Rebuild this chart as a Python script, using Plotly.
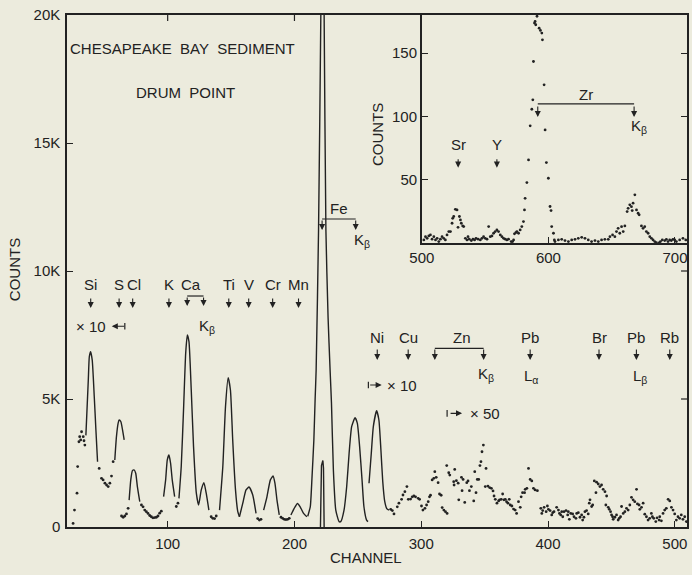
import plotly.graph_objects as go

# ---------------- data (channel, counts) ----------------
# main spectrum, solid line segments
si_ch = [35.5, 37.4, 38.2, 39.2, 40.5, 42.1, 43.4, 44.7]
si_ct = [3580, 5740, 6650, 6850, 6520, 5090, 3790, 2550]
s_ch = [58.3, 59.6, 60.9, 61.7, 63.1, 64.4, 65.7]
s_ct = [2620, 3530, 4050, 4180, 4110, 3790, 3400]
cl_ch = [69.6, 70.9, 72.2, 73.5, 74.8, 76.1, 78.0]
cl_ct = [1050, 1840, 2200, 2230, 2100, 1580, 990]
k_ch = [96.8, 98.4, 99.7, 101.0, 102.3, 103.6, 105.5]
k_ct = [1190, 1840, 2620, 2810, 2490, 1840, 1190]
ca_ch = [108.9, 110.7, 112.6, 114.2, 115.5, 116.8, 118.6, 120.4, 122.6, 124.4, 126.5, 128.6, 130.4, 132.5]
ca_ct = [1120, 2360, 4700, 6780, 7500, 7240, 5350, 3140, 1320, 860, 1450, 1730, 1320, 660]
ti_ch = [140.9, 143.5, 145.6, 147.7, 149.5, 151.3, 153.5, 155.3, 156.6]
ti_ct = [660, 2360, 4700, 5830, 5350, 3400, 1450, 600, 400]
v_ch = [156.6, 159.2, 161.8, 164.2, 167.1, 169.7]
v_ct = [400, 920, 1450, 1560, 1250, 530]
cr_ch = [175.7, 178.3, 181.0, 183.1, 184.6, 186.2, 188.0]
cr_ct = [660, 1180, 1840, 1990, 1710, 1060, 470]
mn_ch = [197.2, 199.8, 202.4, 204.5, 207.2, 209.8]
mn_ct = [470, 730, 920, 790, 530, 400]
fe_ch = [210.5, 212.5, 213.8, 215.3, 216.3, 217.1, 219.0, 220.8, 222.1, 223.4, 224.8, 226.5,
         228.1, 229.2, 230.7, 232.6, 235.2, 236.5, 239.1, 241.2, 243.1, 245.1, 247.8, 249.6,
         251.4, 253.3, 254.8, 256.9, 258.0]
fe_ct = [420, 800, 1900, 3400, 5000, 6130, 11600, 20000, 28000, 20000, 11600, 8200,
         6130, 4830, 2230, 660, 210, 210, 660, 1580, 2880, 3920, 4270, 4050,
         3140, 1840, 790, 270, 210]
fe_small_ch = [220.5, 221.3, 222.4, 222.9, 223.4]
fe_small_ct = [0, 2400, 2600, 2300, 0]
ni_ch = [258.8, 260.6, 262.2, 264.8, 266.6, 268.2, 269.6, 271.2, 272.8, 274.5]
ni_ct = [1710, 2880, 3920, 4540, 4180, 3000, 1800, 1000, 720, 660]

# main spectrum, dotted segments
dots_a_ch = [25.4, 26.5, 28.5, 29.0, 30.0, 30.6, 31.4, 32.1, 33.4, 34.0, 34.7]
dots_a_ct = [140, 660, 1320, 2360, 3330, 3530, 3400, 3720, 3530, 3370, 3200]
dots_b_ch = [46.0, 47.8, 49.1, 50.5, 51.8, 53.1, 54.4, 55.7, 57.0]
dots_b_ct = [2290, 1900, 1840, 1710, 1640, 1580, 1710, 1990, 2550]
dots_c_ch = [63.6, 64.9, 66.2, 67.5, 68.8]
dots_c_ct = [430, 380, 430, 510, 730]
dots_d_ch = [79.3, 80.6, 81.9, 83.2, 84.5, 85.8, 87.1, 88.4, 89.8, 91.1, 92.4, 93.7, 95.0]
dots_d_ct = [860, 790, 660, 600, 530, 450, 400, 360, 370, 380, 430, 540, 620]
dots_e_ch = [106.8, 108.1, 134.3, 135.6, 137.0, 138.3, 171.0, 172.3, 173.6,
             189.4, 190.7, 192.0, 193.3, 194.6, 195.9]
dots_e_ct = [800, 930, 400, 340, 330, 430, 330, 270, 300,
             380, 340, 300, 290, 300, 340]
dots_f_ch = [275.9, 277.2, 278.5, 281.1, 282.4, 284.5, 285.6, 287.1, 288.7, 289.8, 291.6, 292.9,
             294.2, 295.5, 297.6, 298.7, 300.2, 301.3, 302.9, 304.2, 305.5, 306.5, 307.3, 308.6,
             309.9, 310.7, 311.8, 313.3, 314.4, 315.7, 316.5, 317.8, 319.1, 320.4]
dots_f_ct = [690, 640, 510, 790, 930, 1080, 1250, 1380, 1580, 1080, 1090, 1180,
             1210, 1180, 1120, 1080, 820, 660, 730, 860, 990, 1180, 1240, 1840,
             1900, 2160, 1940, 1730, 1290, 1240, 760, 660, 600, 530]
dots_g_ch = [320.1, 321.7, 322.5, 325.6, 326.4, 325.9, 327.7, 329.1, 329.6, 331.7, 333.0, 332.2,
             334.3, 335.9, 336.9, 338.0, 339.5, 341.4, 342.2, 343.2, 344.2, 345.3, 346.3, 347.1,
             347.9, 349.0, 351.1, 350.5, 352.6, 353.9, 355.3, 356.6, 357.4, 358.4, 359.7, 361.0,
             361.8, 363.1, 364.2, 365.2, 366.3, 367.3, 368.4, 369.4, 370.2, 371.5, 372.8, 374.1,
             375.2, 376.7, 378.1, 378.8, 379.9, 381.5, 382.0, 383.3, 384.6, 385.9, 387.2, 388.5,
             389.8, 391.6]
dots_g_ct = [2400, 2120, 2030, 1770, 2250, 1640, 1810, 1710, 1060, 1940, 1860, 1420,
             960, 1730, 1800, 1420, 1580, 1020, 2160, 1340, 1860, 1860, 2400, 2550,
             2940, 3200, 2290, 1580, 1600, 1540, 1510, 1410, 1210, 1080, 930, 1020,
             1060, 1080, 1290, 1060, 1080, 990, 930, 1080, 860, 820, 700, 660,
             530, 990, 770, 1180, 1340, 1340, 1470, 1510, 2290, 1860, 1800, 1510,
             1450, 1420]
dots_h_ch = [394.3, 395.1, 395.8, 396.9, 398.5, 399.5, 400.3, 401.6, 402.9, 403.7, 404.7, 406.8,
             408.2, 409.0, 410.0, 410.8, 411.6, 412.6, 414.2, 415.5, 416.0, 416.8, 417.9, 419.4,
             420.5, 422.0, 422.6, 423.9, 425.2, 426.5, 427.3, 428.3, 429.1, 430.4, 431.7, 432.5,
             433.1, 434.4, 435.2, 436.5, 437.8, 438.3, 439.6, 440.9, 442.2, 443.5, 444.9, 446.2,
             445.6, 447.5, 448.3, 449.3, 450.1, 450.9, 451.4, 452.7, 454.0, 455.3, 456.1, 457.2,
             458.0, 459.3, 460.6, 461.9, 463.2, 464.5, 465.8, 467.1, 468.4, 469.8, 470.5, 471.8,
             472.4, 473.7, 475.0, 476.3, 477.6, 478.9, 480.2, 481.5, 482.3, 483.4, 485.0, 486.0,
             487.6, 488.1, 489.4, 490.7, 492.0, 493.3, 494.7, 496.0, 497.3, 498.6, 499.9, 501.2,
             502.5, 503.8, 505.1, 506.4, 507.8, 509.1]
dots_h_ct = [730, 530, 640, 770, 600, 820, 690, 640, 470, 560, 600, 770,
             660, 530, 470, 600, 400, 600, 640, 470, 600, 300, 530, 510,
             400, 340, 530, 560, 380, 470, 270, 380, 600, 640, 510, 930,
             1060, 800, 860, 1800, 1340, 1750, 1680, 1580, 1640, 1470, 1380, 1210,
             860, 770, 690, 600, 470, 400, 300, 380, 470, 270, 340, 400,
             800, 530, 600, 730, 660, 860, 1160, 1060, 990, 1470, 900, 860,
             690, 770, 930, 500, 400, 270, 340, 530, 400, 340, 210, 360,
             270, 400, 240, 530, 660, 730, 1080, 1020, 770, 660, 510, 270,
             400, 340, 470, 300, 400, 210]

# inset spectrum (Sr, Y, Zr region)
inset_ch = [501.6, 502.9, 504.2, 505.5, 506.8, 508.1, 509.5, 510.8, 512.1, 513.4, 514.7, 516.0,
            517.3, 518.6, 519.9, 521.3, 522.6, 523.9, 524.4, 525.2, 526.5, 527.8, 528.6, 529.7,
            530.5, 531.2, 532.3, 533.1, 534.4, 535.7, 536.5, 537.5, 539.1, 540.4, 541.7, 542.8,
            544.4, 546.2, 547.5, 548.8, 550.1, 551.5, 552.8, 554.1, 555.4, 556.7, 558.0, 559.3,
            560.6, 562.0, 563.3, 564.6, 565.9, 567.2, 568.5, 570.6, 571.7, 572.5, 573.2, 574.3,
            575.1, 576.4, 577.7, 579.0, 580.3, 581.1, 581.6, 583.0, 584.3, 585.6, 586.9, 587.7,
            588.2, 589.0, 589.5, 590.0, 591.0, 592.7, 593.7, 594.8, 595.3, 596.6, 597.4, 598.4,
            600.0, 601.3, 602.1, 602.6, 604.0, 604.7, 605.2, 607.9, 610.5, 613.1, 615.8, 618.4,
            621.0, 623.6, 626.3, 628.9, 631.5, 634.1, 636.8, 639.4, 642.0, 644.6, 647.3, 648.6,
            650.7, 652.5, 653.8, 655.1, 656.4, 657.8, 659.1, 660.4, 662.2, 663.0, 664.3, 665.6,
            666.2, 666.9, 668.3, 669.6, 670.9, 671.7, 673.5, 674.8, 676.1, 677.4, 678.8, 680.1,
            681.4, 682.7, 684.0, 685.3, 687.4, 688.5, 690.0, 691.9, 693.2, 694.5, 695.8, 697.1,
            698.4, 699.8, 701.1, 703.7, 706.3, 708.5]
inset_ct = [2.4, 5.0, 3.7, 5.6, 6.4, 3.0, 5.0, 2.4, 3.7, 1.1, 3.0, 5.0,
            3.7, 2.4, 6.4, 9.0, 9.0, 15.6, 19.5, 20.9, 26.6, 26.1, 12.4, 20.9,
            18.2, 15.6, 13.5, 13.0, 3.7, 2.4, 5.0, 3.0, 1.9, 3.0, 2.4, 3.7,
            3.0, 2.4, 3.7, 5.0, 3.7, 3.0, 13.0, 5.0, 5.6, 7.7, 9.0, 10.3,
            9.0, 6.4, 5.0, 3.7, 3.0, 2.4, 3.0, 1.1, 1.1, 2.4, 7.2, 8.2,
            9.0, 7.7, 10.3, 13.0, 16.9, 26.1, 35.3, 47.7, 65.6, 92.5, 105.6, 113.0,
            143.3, 173.6, 174.9, 172.3, 179.0, 169.6, 167.8, 165.7, 160.4, 124.9, 89.3, 63.5,
            51.1, 28.8, 25.6, 13.0, 7.7, 2.4, 1.1, 2.4, 2.9, 1.9, 1.1, 2.4,
            2.9, 3.7, 4.5, 3.7, 2.4, 1.1, 1.9, 1.1, 2.4, 2.9, 2.9, 5.0,
            6.4, 5.0, 9.0, 11.6, 7.7, 12.9, 9.0, 13.5, 24.8, 27.4, 30.1, 28.7,
            25.6, 31.4, 38.0, 26.1, 23.5, 22.2, 13.5, 11.6, 12.9, 9.0, 7.7, 5.0,
            3.7, 2.4, 1.1, 0.3, 0.0, 1.1, 2.4, 1.9, 2.9, 1.1, 2.4, 1.9,
            2.9, 2.4, 1.1, 2.4, 3.7, 2.4]

# tick labels
main_x_ticks = [100, 200, 300, 400, 500]
main_y_ticks = [0, 5000, 10000, 15000, 20000]
main_y_text = ["0", "5K", "10K", "15K", "20K"]
inset_x_ticks = [500, 600, 700]
inset_y_ticks = [50, 100, 150]

# ---------------- styling ----------------
INK = "#222222"
BG = "#ECEBDD"
FONT = "Liberation Sans, Arial, sans-serif"
FS = 15

fig = go.Figure()

line_segments = [(si_ch, si_ct), (s_ch, s_ct), (cl_ch, cl_ct), (k_ch, k_ct), (ca_ch, ca_ct),
                 (ti_ch, ti_ct), (v_ch, v_ct), (cr_ch, cr_ct), (mn_ch, mn_ct), (fe_ch, fe_ct),
                 (ni_ch, ni_ct)]
for xs, ys in line_segments:
    fig.add_trace(go.Scatter(x=xs, y=ys, mode="lines", line=dict(color=INK, width=1.4, shape="spline", smoothing=0.5),
                             showlegend=False, hoverinfo="skip"))
fig.add_trace(go.Scatter(x=fe_small_ch, y=fe_small_ct, mode="lines", line=dict(color=INK, width=1.4),
                         showlegend=False, hoverinfo="skip"))

dot_segments = [(dots_a_ch, dots_a_ct), (dots_b_ch, dots_b_ct), (dots_c_ch, dots_c_ct),
                (dots_d_ch, dots_d_ct), (dots_e_ch, dots_e_ct), (dots_f_ch, dots_f_ct),
                (dots_g_ch, dots_g_ct), (dots_h_ch, dots_h_ct)]
for xs, ys in dot_segments:
    fig.add_trace(go.Scatter(x=xs, y=ys, mode="markers", marker=dict(color=INK, size=2.8),
                             showlegend=False, hoverinfo="skip"))

fig.add_trace(go.Scatter(x=inset_ch, y=inset_ct, mode="markers", marker=dict(color=INK, size=2.8),
                         xaxis="x2", yaxis="y2", showlegend=False, hoverinfo="skip"))

ann = []
shapes = []


def text(x, y, s, xref="x", yref="y", size=FS, angle=0):
    ann.append(dict(x=x, y=y, xref=xref, yref=yref, text=s, showarrow=False,
                    font=dict(family=FONT, size=size, color=INK), textangle=angle,
                    xanchor="center", yanchor="middle"))


def arrow(x, y, ax, ay, xref="x", yref="y"):
    ann.append(dict(x=x, y=y, xref=xref, yref=yref, text="", showarrow=True,
                    ax=ax, ay=ay, arrowhead=2, arrowsize=1.1, arrowwidth=1.1, arrowcolor=INK,
                    standoff=0, startstandoff=0))


def hline(x0, x1, y, xref="x", yref="y"):
    shapes.append(dict(type="line", xref=xref, yref=yref, x0=x0, x1=x1, y0=y, y1=y,
                       line=dict(color=INK, width=1.2)))


# titles
text(111.8, 18711, "CHESAPEAKE\u00a0\u00a0BAY\u00a0\u00a0SEDIMENT")
text(114.2, 16992, "DRUM\u00a0\u00a0POINT")

# element labels, left group
row1 = 9492
for lab, cx in [("Si", 39.3), ("S", 61.7), ("Cl", 73.3), ("K", 101.0), ("Ti", 148.2),
                ("V", 163.9), ("Cr", 182.8), ("Mn", 203.2)]:
    text(cx, row1, lab)
for cx in [39.3, 61.7, 72.4, 101.0, 148.2, 163.9, 182.8, 203.2]:
    arrow(cx, 8555, 0, -11)
text(118.6, row1, "Ca")
hline(115.4, 128.3, 9023)
arrow(115.4, 8633, 0, -10)
arrow(128.3, 8633, 0, -10)
text(130.8, 7824, "K<sub>β</sub>")

# x10 marker (left)
text(39.3, 7840, "× 10")
arrow(55.9, 7840, 14, 0)
shapes.append(dict(type="line", xref="x", yref="y", x0=66.2, x1=66.2, y0=7840 - 130, y1=7840 + 130,
                   line=dict(color=INK, width=1.2)))

# Fe bracket
text(235.2, 12460, "Fe")
hline(221.8, 248.3, 12031)
arrow(221.8, 11600, 0, -11)
arrow(248.3, 11600, 0, -11)
text(253.0, 11211, "K<sub>β</sub>")

# right group
row2 = 7410
for lab, cx in [("Ni", 265.3), ("Cu", 289.7), ("Pb", 385.9), ("Br", 440.2), ("Pb", 469.7), ("Rb", 496.0)]:
    text(cx, row2, lab)
    arrow(cx, 6523, 0, -12)
text(332.1, row2, "Zn")
hline(310.7, 349.2, 6980)
arrow(310.7, 6523, 0, -12)
arrow(349.2, 6523, 0, -12)
text(350.8, 5938, "K<sub>β</sub>")
text(386.7, 5871, "L<sub>α</sub>")
text(472.4, 5871, "L<sub>β</sub>")

# x10 / x50 markers (right)
for bar, tip, yv, lab, lx in [(258.3, 268.8, 5547, "× 10", 284.6), (320.4, 332.2, 4440, "× 50", 350.0)]:
    arrow(tip, yv, -13, 0)
    shapes.append(dict(type="line", xref="x", yref="y", x0=bar, x1=bar, y0=yv - 130, y1=yv + 130,
                       line=dict(color=INK, width=1.2)))
    text(lx, yv, lab)

# inset labels
text(528.7, 77.5, "Sr", "x2", "y2")
arrow(528.7, 59.5, 0, -10, "x2", "y2")
text(559.3, 77.5, "Y", "x2", "y2")
arrow(559.3, 59.5, 0, -10, "x2", "y2")
text(629.4, 117.5, "Zr", "x2", "y2")
hline(591.6, 667.7, 109.9, "x2", "y2")
arrow(591.6, 99.5, 0, -12, "x2", "y2")
arrow(667.7, 99.5, 0, -12, "x2", "y2")
text(671.5, 92.0, "K<sub>β</sub>", "x2", "y2")

# axis titles
text(0.482, -0.0586, "CHANNEL", "paper", "paper")
text(-0.0836, 0.502, "COUNTS", "paper", "paper", angle=-90)
text(0.5, 0.7656, "COUNTS", "paper", "paper", angle=-90)

# mirrored ticks on main frame (top & right), drawn as short marks
for tv in [100, 200]:
    shapes.append(dict(type="line", xref="x", yref="paper", x0=tv, x1=tv, y0=1, y1=1 - 6 / 512,
                       line=dict(color=INK, width=1.2)))
for tv in [5000, 10000]:
    shapes.append(dict(type="line", xref="paper", yref="y", x0=1, x1=1 - 6 / 622, y0=tv, y1=tv,
                       line=dict(color=INK, width=1.2)))

axis_font = dict(family=FONT, size=FS, color=INK)
fig.update_layout(
    width=692, height=575,
    margin=dict(l=67, r=3, t=15, b=48),
    paper_bgcolor=BG, plot_bgcolor=BG,
    showlegend=False,
    annotations=ann, shapes=shapes,
    xaxis=dict(range=[20.6, 509.6], tickvals=main_x_ticks, ticks="inside", ticklen=6, tickcolor=INK,
               showline=True, linecolor=INK, linewidth=1.5, mirror=True, showgrid=False, zeroline=False,
               tickfont=axis_font, ticklabelstandoff=2, ticklabeloverflow="allow"),
    yaxis=dict(range=[0, 20000], tickvals=main_y_ticks, ticktext=main_y_text, ticks="inside", ticklen=6,
               tickcolor=INK, showline=True, linecolor=INK, linewidth=1.5, mirror=True, showgrid=False,
               zeroline=False, tickfont=axis_font, ticklabelstandoff=2, ticklabeloverflow="allow"),
    xaxis2=dict(domain=[0.5723, 1.0], anchor="y2", range=[500, 709.5], tickvals=inset_x_ticks,
                ticks="inside", ticklen=6, tickcolor=INK, showline=True, linecolor=INK, linewidth=1.5,
                mirror=True, showgrid=False, zeroline=False, tickfont=axis_font, ticklabeloverflow="allow"),
    yaxis2=dict(domain=[0.5547, 1.0], anchor="x2", range=[0, 180], tickvals=inset_y_ticks,
                ticks="inside", ticklen=6, tickcolor=INK, showline=True, linecolor=INK, linewidth=1.5,
                mirror="ticks", showgrid=False, zeroline=False, tickfont=axis_font, ticklabeloverflow="allow"),
)

# remove the default page margin and scrollbars so the figure fills the window exactly
fig.write_html("out.html",
               config={"displayModeBar": False},
               post_script="document.documentElement.style.overflow='hidden';"
                           "document.body.style.margin='0';document.body.style.overflow='hidden';")
